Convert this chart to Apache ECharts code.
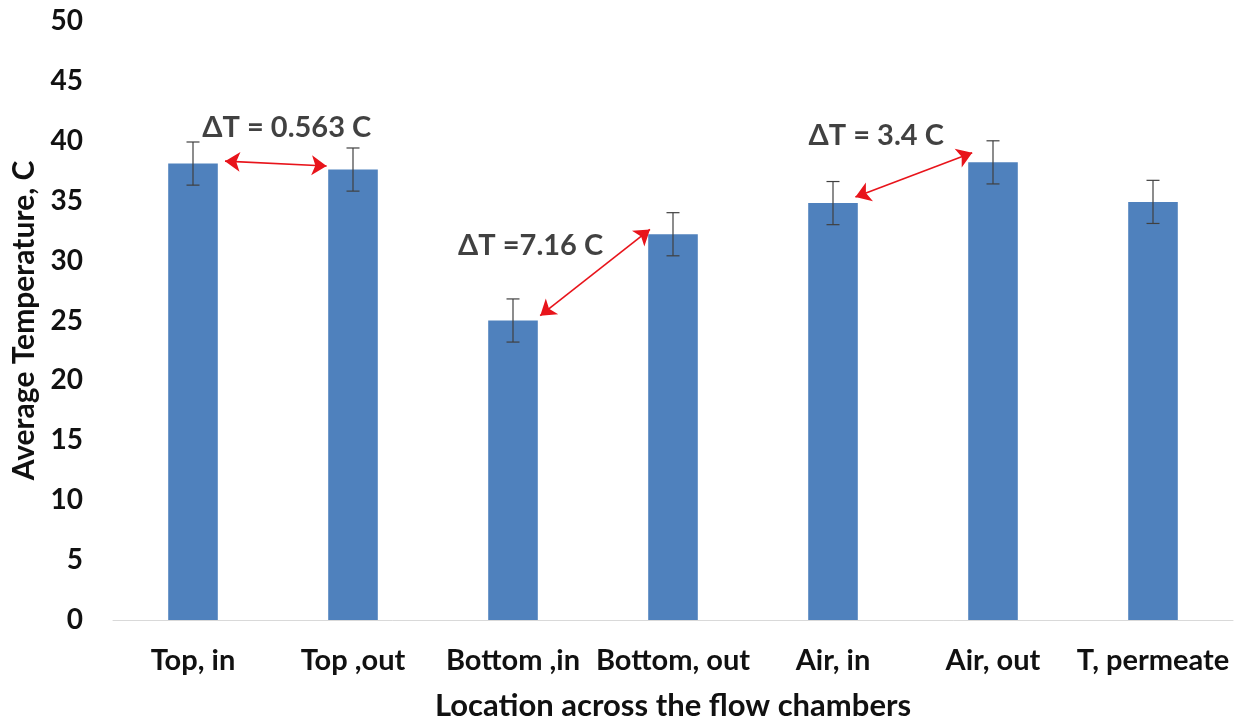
<!DOCTYPE html>
<html><head><meta charset="utf-8">
<script src="https://cdn.jsdelivr.net/npm/echarts@6/dist/echarts.min.js"></script>
<style>html,body{margin:0;padding:0;background:#fff}#c{width:1242px;height:726px}</style>
</head><body><div id="c"></div>
<script>
const categories = ['Top, in', 'Top ,out', 'Bottom ,in', 'Bottom, out', 'Air, in', 'Air, out', 'T, permeate'];
const temps = [38.1, 37.6, 25.0, 32.2, 34.8, 38.2, 34.9];
const errors = [1.8, 1.8, 1.8, 1.8, 1.8, 1.8, 1.8];
// annotation arrows: [x1, y1, x2, y2] in category-index / value units
const arrows = [
  [0.20, 38.3, 0.835, 37.9],
  [2.17, 25.4, 2.856, 32.6],
  [4.14, 35.3, 4.87, 39.0]
];
const notes = [
  [0.586, 41.1, 'ΔT = 0.563 C'],
  [2.11, 31.25, 'ΔT =7.16 C'],
  [4.27, 40.45, 'ΔT = 3.4 C']
];
const FONT = 'Lato';
const INK = '#111111';
const chart = echarts.init(document.getElementById('c'));
chart.setOption({
  animation: false,
  grid: {left: 113, right: 9, top: 21, bottom: 103},
  xAxis: [{
    type: 'category', data: categories,
    axisLine: {lineStyle: {color: '#d9d9d9', width: 1}},
    axisTick: {show: false},
    axisLabel: {fontFamily: FONT, fontWeight: 'bold', fontSize: 29, color: INK, margin: 26, interval: 0},
    name: 'Location across the flow chambers', nameLocation: 'middle', nameGap: 70,
    nameTextStyle: {fontFamily: FONT, fontWeight: 'bold', fontSize: 31, color: INK}
  }, {
    type: 'value', min: -0.5, max: 6.5, show: false
  }],
  yAxis: {
    type: 'value', min: 0, max: 50, interval: 5,
    splitLine: {show: false},
    axisLine: {show: false}, axisTick: {show: false},
    axisLabel: {fontFamily: FONT, fontWeight: 'bold', fontSize: 28, color: INK, margin: 30},
    name: 'Average Temperature, C', nameLocation: 'middle', nameGap: 74,
    nameTextStyle: {fontFamily: FONT, fontWeight: 'bold', fontSize: 30, color: INK}
  },
  series: [{
    type: 'bar', data: temps, barWidth: '31%', xAxisIndex: 0,
    itemStyle: {color: '#4F81BD'}
  }, {
    type: 'custom', xAxisIndex: 0, z: 5,
    data: temps.map((v, i) => [i, v - errors[i], v + errors[i]]),
    renderItem: function (params, api) {
      const lo = api.coord([api.value(0), api.value(1)]);
      const hi = api.coord([api.value(0), api.value(2)]);
      const w = 6.5;
      const st = {stroke: '#404040', lineWidth: 1.2};
      return {type: 'group', children: [
        {type: 'line', shape: {x1: hi[0], y1: hi[1], x2: lo[0], y2: lo[1]}, style: st},
        {type: 'line', shape: {x1: hi[0] - w, y1: hi[1], x2: hi[0] + w, y2: hi[1]}, style: st},
        {type: 'line', shape: {x1: lo[0] - w, y1: lo[1], x2: lo[0] + w, y2: lo[1]}, style: st}
      ]};
    }
  }, {
    type: 'lines', coordinateSystem: 'cartesian2d', xAxisIndex: 1, yAxisIndex: 0, z: 6,
    symbol: ['arrow', 'arrow'], symbolSize: 15,
    lineStyle: {color: '#e8141b', width: 1.6, opacity: 1},
    data: arrows.map(a => ({coords: [[a[0], a[1]], [a[2], a[3]]]}))
  }, {
    type: 'scatter', xAxisIndex: 1, symbolSize: 0, z: 7,
    data: notes.map(n => [n[0], n[1], n[2]]),
    label: {show: true, position: 'inside', formatter: p => p.value[2],
      fontFamily: FONT, fontWeight: 'bold', fontSize: 29, color: INK}
  }]
});
</script></body></html>
